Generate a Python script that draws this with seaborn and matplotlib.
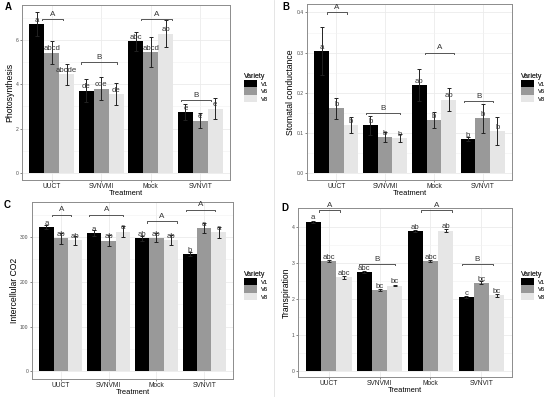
import numpy as np
import pandas as pd
import matplotlib
matplotlib.use("Agg")
import matplotlib.pyplot as plt
import seaborn as sns
from matplotlib.patches import Patch
from matplotlib.ticker import FixedLocator

# Data, ordered treatment by treatment, V1/V6/V8 inside
treatments = ["UUCT", "SVNVMI", "Mock", "SVNVIT"]
varieties = ["V1", "V6", "V8"]

photo_mean = [6.72, 5.43, 4.45, 3.71, 3.80, 3.55, 5.94, 5.46, 6.29, 2.74, 2.36, 2.90]
photo_err = [0.56, 0.52, 0.48, 0.51, 0.53, 0.50, 0.44, 0.66, 0.60, 0.37, 0.35, 0.47]
photo_letters = ["a", "abcd", "abcde", "de", "cde", "de", "abc", "abcd", "ab", "e", "e", "e"]
photo_groups = ["A", "B", "A", "B"]
photo_group_y = [6.95, 4.99, 6.95, 3.29]

stom_mean = [0.304, 0.161, 0.119, 0.119, 0.090, 0.087, 0.219, 0.132, 0.183, 0.085, 0.137, 0.105]
stom_err = [0.060, 0.027, 0.020, 0.023, 0.012, 0.010, 0.040, 0.019, 0.029, 0.006, 0.036, 0.036]
stom_letters = ["a", "b", "b", "b", "b", "b", "ab", "b", "ab", "b", "b", "b"]
stom_groups = ["A", "B", "A", "B"]
stom_group_y = [0.40, 0.150, 0.30, 0.180]

co2_mean = [322, 297, 293, 309, 292, 312, 297, 298, 293, 262, 320, 310]
co2_err = [5, 12, 10, 6, 13, 12, 6, 10, 12, 5, 12, 12]
co2_letters = ["a", "ab", "ab", "a", "ab", "a", "ab", "ab", "ab", "b", "a", "a"]
co2_groups = ["A", "A", "A", "A"]
co2_group_y = [350, 350, 335, 361]

trans_mean = [4.16, 3.07, 2.61, 2.76, 2.26, 2.38, 3.89, 3.07, 3.91, 2.06, 2.46, 2.11]
trans_err = [0.03, 0.03, 0.04, 0.03, 0.02, 0.02, 0.03, 0.02, 0.04, 0.03, 0.04, 0.05]
trans_letters = ["a", "abc", "abc", "abc", "bc", "bc", "ab", "abc", "ab", "c", "bc", "bc"]
trans_groups = ["A", "B", "A", "B"]
trans_group_y = [4.48, 2.98, 4.48, 2.98]

colors = {"V1": "#000000", "V6": "#999999", "V8": "#e6e6e6"}
# bracket extents relative to each treatment's centre
bracket_span = [(-0.19, 0.22), (-0.40, 0.31), (-0.19, 0.42), (-0.39, 0.22)]

plt.rcParams["font.family"] = ["Liberation Sans", "DejaVu Sans"]

W, H = 550, 397
fig = plt.figure(figsize=(W / 100, H / 100), dpi=100)


def px_axes(left, right, top, bottom):
    return fig.add_axes([left / W, 1 - bottom / H, (right - left) / W, (bottom - top) / H])


def panel(ax, mean, err, letters, groups, group_y, ylabel, ylim, yticks, yfmt, minor):
    df = pd.DataFrame({"Treatment": np.repeat(treatments, 3),
                       "Variety": varieties * 4,
                       "value": mean})
    sns.barplot(data=df, x="Treatment", y="value", hue="Variety", order=treatments,
                hue_order=varieties, palette=colors, width=0.9, errorbar=None,
                saturation=1, edgecolor="none", legend=False, ax=ax, zorder=2)
    bar_conts = list(ax.containers)
    for i, cont in enumerate(bar_conts):
        for j, bar in enumerate(cont):
            k = j * 3 + i
            x = bar.get_x() + bar.get_width() / 2
            ax.errorbar(x, mean[k], yerr=err[k], color="#222222", capsize=1.6,
                        lw=0.7, capthick=0.7, zorder=3)
            ax.annotate(letters[k], (x, mean[k]), xytext=(0, 0.2), textcoords="offset points",
                        ha="center", va="bottom", fontsize=5.6, color="#333333", zorder=4)
    d = (ylim[1] - ylim[0]) * 0.008
    for g in range(4):
        x0, x1 = g + bracket_span[g][0], g + bracket_span[g][1]
        y = group_y[g]
        ax.plot([x0, x0, x1, x1], [y - d, y, y, y - d], color="#555555", lw=0.7, zorder=3)
        ax.text((x0 + x1) / 2, y + d * 0.8, groups[g], ha="center", va="bottom",
                fontsize=5.8, color="#333333")

    ax.set_xlim(-0.6, 3.6)
    ax.set_ylim(*ylim)
    ax.set_yticks(yticks)
    ax.set_yticklabels([yfmt.format(t) for t in yticks])
    ax.yaxis.set_minor_locator(FixedLocator(minor))
    ax.grid(True, which="major", color="#ebebeb", lw=0.6, zorder=0)
    ax.grid(True, which="minor", axis="y", color="#f2f2f2", lw=0.4, zorder=0)
    ax.set_axisbelow(True)
    ax.tick_params(axis="y", which="minor", length=0)
    ax.tick_params(axis="both", which="major", length=1.5, width=0.5, color="#555555",
                   labelcolor="#4d4d4d", pad=1)
    ax.tick_params(axis="y", labelsize=3.6)
    ax.tick_params(axis="x", labelsize=4.8, labelcolor="#222222")
    for s in ax.spines.values():
        s.set_color("#8c8c8c")
        s.set_linewidth(0.7)
    ax.set_xlabel("Treatment", fontsize=5.4, labelpad=-0.5)
    ax.set_ylabel(ylabel, fontsize=6.2, labelpad=0.8)


axA = px_axes(22, 230, 5, 180)
panel(axA, photo_mean, photo_err, photo_letters, photo_groups, photo_group_y,
      "Photosynthesis", (-0.32, 7.58), [0, 2, 4, 6], "{:g}", [1, 3, 5, 7])
axB = px_axes(307, 512, 4, 180)
panel(axB, stom_mean, stom_err, stom_letters, stom_groups, stom_group_y,
      "Stomatal conductance", (-0.017, 0.421), [0, 0.1, 0.2, 0.3, 0.4], "{:.1f}",
      [0.05, 0.15, 0.25, 0.35])
axC = px_axes(32, 233, 202, 379)
panel(axC, co2_mean, co2_err, co2_letters, co2_groups, co2_group_y,
      "Intercellular CO2", (-17, 378), [0, 100, 200, 300], "{:g}", [50, 150, 250, 350])
axD = px_axes(298, 512, 208, 377)
panel(axD, trans_mean, trans_err, trans_letters, trans_groups, trans_group_y,
      "Transpiration", (-0.16, 4.54), [0, 1, 2, 3, 4], "{:g}", [0.5, 1.5, 2.5, 3.5])

# legends
handles = [Patch(facecolor=colors[v], edgecolor="none", label=v) for v in varieties]
for (lx, ly) in [(244, 73), (521, 73), (244, 271), (521, 271)]:
    leg = fig.legend(handles=handles, title="Variety", loc="upper left",
                     bbox_to_anchor=(lx / W, 1 - ly / H), frameon=False, fontsize=4.2,
                     title_fontsize=5.0, handlelength=2.3, handleheight=1.6,
                     labelspacing=0.0, borderpad=0, borderaxespad=0, handletextpad=0.6,
                     labelcolor="#444444")
    leg._legend_box.align = "left"
    leg.get_title().set_color("#333333")
    fig.add_artist(leg)

# panel tags
for tag, tx, ty in [("A", 8, 7.5), ("B", 285.5, 7), ("C", 7.5, 205.5), ("D", 285, 207.5)]:
    fig.text(tx / W, 1 - ty / H, tag, fontsize=7, fontweight="bold", ha="center", va="center")

fig.add_artist(plt.Line2D([274 / W, 274 / W], [0, 1], color="#e0e0e0", lw=0.6))

fig.savefig("out.png", dpi=100)
